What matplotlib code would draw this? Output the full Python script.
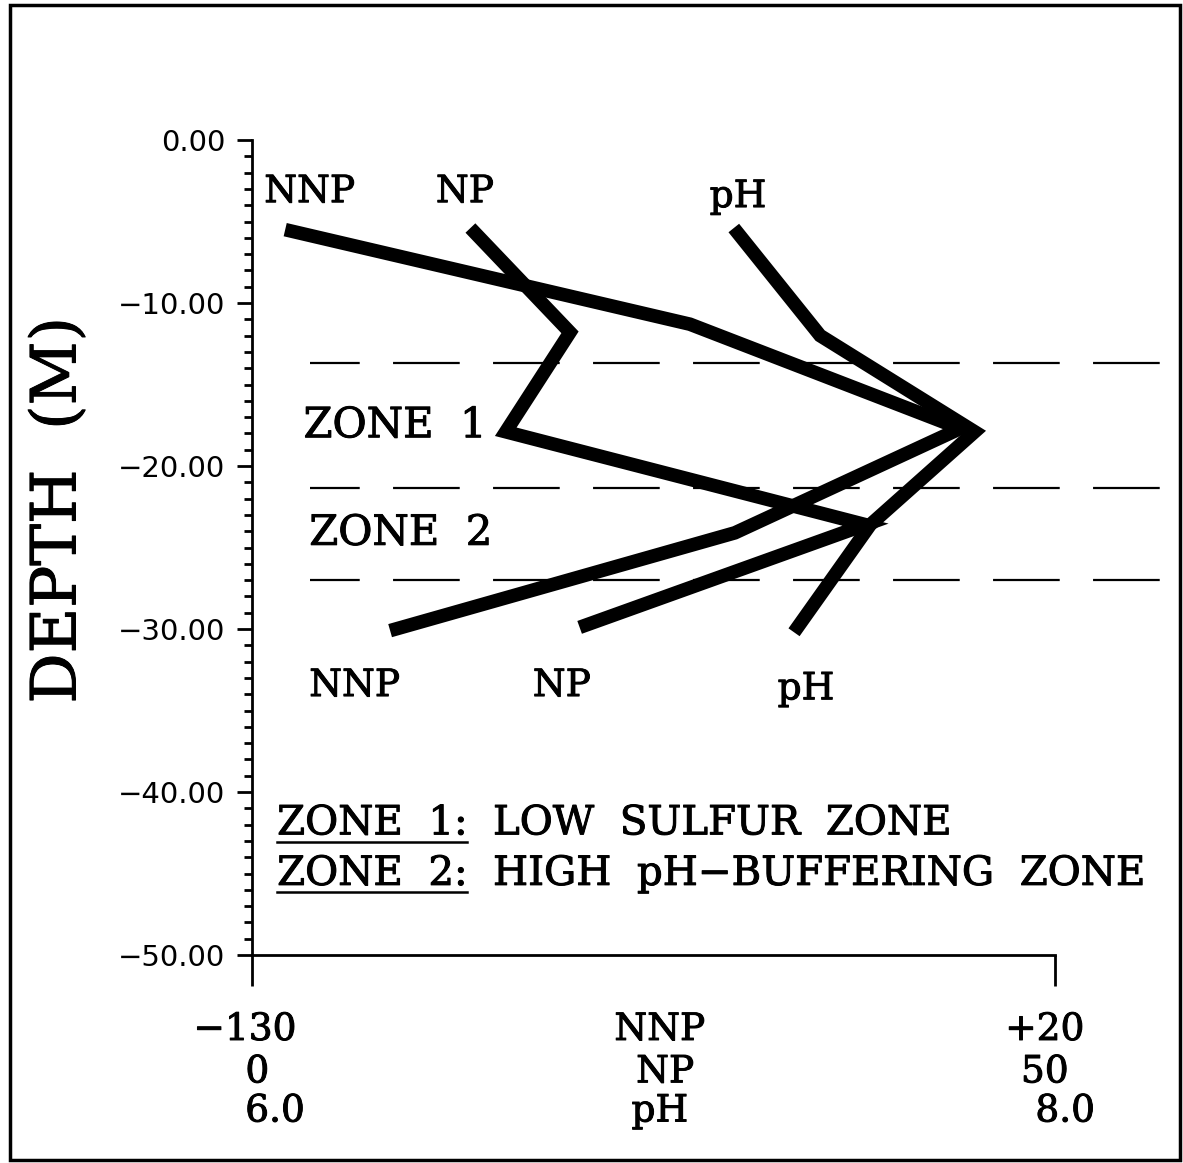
import numpy as np
import matplotlib
matplotlib.use("Agg")
import matplotlib.pyplot as plt
import matplotlib.patheffects as pe
from matplotlib.patches import Rectangle
from matplotlib.ticker import MultipleLocator, FuncFormatter

# profiles (depth in m)
nnp_depth = [-5.5, -11.3, -17.7, -24.1, -30.1]
nnp_vals = [-123.8, -48.2, 2.3, -39.8, -104.2]

np_depth = [-5.4, -11.8, -17.9, -23.6, -29.9]
np_vals = [13.6, 19.8, 15.8, 38.2, 20.4]

ph_depth = [-5.4, -12.0, -17.9, -23.6, -30.2]
ph_vals = [7.20, 7.415, 7.80, 7.54, 7.35]

zone_bounds = [-13.7, -21.35, -27.0]

nnp_lim = (-130, 20)
np_lim = (0, 50)
ph_lim = (6.0, 8.0)

serif = "DejaVu Serif"
plt.rcParams["lines.scale_dashes"] = False
heavy = [pe.withStroke(linewidth=0.7, foreground="black")]


def ylab(v, pos):
    return ("%.2f" % v).replace("-", "\u2212")


fig = plt.figure(figsize=(11.83, 11.63), dpi=100)
ax = fig.add_axes([252 / 1183, 1 - 955 / 1163, 803 / 1183, 815 / 1163])
ax.set_xlim(*nnp_lim)
ax.set_ylim(-50, 0)

ax_np = ax.twiny()
ax_np.set_xlim(*np_lim)
ax_ph = ax.twiny()
ax_ph.set_xlim(*ph_lim)
for a in (ax_np, ax_ph):
    a.axis("off")

lw = 9.8
ax.plot(nnp_vals, nnp_depth, color="black", lw=lw, solid_joinstyle="miter",
        solid_capstyle="butt")
ax_np.plot(np_vals, np_depth, color="black", lw=lw, solid_joinstyle="miter",
           solid_capstyle="butt")
ax_ph.plot(ph_vals, ph_depth, color="black", lw=lw, solid_joinstyle="miter",
           solid_capstyle="butt")

for z in zone_bounds:
    ax.plot([-119.2, 39.6], [z, z], color="black", lw=1.6,
            linestyle=(12.2, (48, 24)), clip_on=False)

# axes styling
for s in ("top", "right"):
    ax.spines[s].set_visible(False)
ax.spines["left"].set_linewidth(2.0)
ax.spines["bottom"].set_linewidth(2.0)
ax.set_xticks(list(nnp_lim))
ax.set_xticklabels([])
ax.tick_params(axis="x", direction="out", length=22, width=2.0)
ax.yaxis.set_major_locator(MultipleLocator(10))
ax.yaxis.set_minor_locator(MultipleLocator(1))
ax.yaxis.set_major_formatter(FuncFormatter(ylab))
ax.tick_params(axis="y", which="major", direction="out", length=11, width=2.0,
               labelsize=21, pad=8)
ax.tick_params(axis="y", which="minor", direction="out", length=6, width=2.0)
for t in ax.get_yticklabels():
    t.set_family("DejaVu Sans")

# curve labels
lab = dict(family=serif, fontsize=27, ha="center", va="center",
           path_effects=heavy)
ax.text(-119.2, -3.2, "NNP", **lab)
ax.text(-90.2, -3.2, "NP", **lab)
ax.text(-39.2, -3.5, "pH", **lab)
ax.text(-110.8, -33.5, "NNP", **lab)
ax.text(-72.1, -33.5, "NP", **lab)
ax.text(-26.5, -33.7, "pH", **lab)
zl = dict(lab, fontsize=30)
ax.text(-103.3, -17.5, "ZONE  1", **zl)
ax.text(-102.2, -24.1, "ZONE  2", **zl)

# bottom scale labels
ax.text(-131.3, -54.6, "\u2212130", clip_on=False, **lab)
ax.text(-129.0, -57.2, "0", clip_on=False, **lab)
ax.text(-125.7, -59.6, "6.0", clip_on=False, **lab)
ax.text(-53.8, -54.6, "NNP", clip_on=False, **lab)
ax.text(-52.8, -57.2, "NP", clip_on=False, **lab)
ax.text(-53.8, -59.6, "pH", clip_on=False, **lab)
ax.text(18.1, -54.6, "+20", clip_on=False, **lab)
ax.text(18.1, -57.2, "50", clip_on=False, **lab)
ax.text(21.9, -59.6, "8.0", clip_on=False, **lab)

# zone legend with underlined keys
leg = dict(family=serif, fontsize=29, ha="left", va="baseline",
           path_effects=heavy)
rows = [(-42.6, "ZONE  1:", "  LOW  SULFUR  ZONE"),
        (-45.7, "ZONE  2:", "  HIGH  pH\u2212BUFFERING  ZONE")]
fig.canvas.draw()
rend = fig.canvas.get_renderer()
for y, key, desc in rows:
    tk = ax.text(-125.3, y, key, **leg)
    bb = tk.get_window_extent(rend)
    inv = ax.transData.inverted()
    x0, _ = inv.transform((bb.x0, 0))
    x1, _ = inv.transform((bb.x1, 0))
    ax.plot([x0, x1], [y - 0.45, y - 0.45], color="black", lw=1.8, clip_on=False)
    ax.annotate(desc, xy=(1, 0), xycoords=tk, va="bottom", ha="left",
                family=serif, fontsize=29, path_effects=heavy)

fig.text(0.049, 1 - 510 / 1163, "DEPTH  (M)", family=serif, fontsize=45,
         rotation=90, ha="center", va="center", path_effects=heavy)

fig.add_artist(Rectangle((10 / 1183, 1 - 1160 / 1163), 1170 / 1183, 1155 / 1163,
                         transform=fig.transFigure, fill=False, lw=2.5,
                         edgecolor="black"))

fig.savefig("out.png", dpi=100)
